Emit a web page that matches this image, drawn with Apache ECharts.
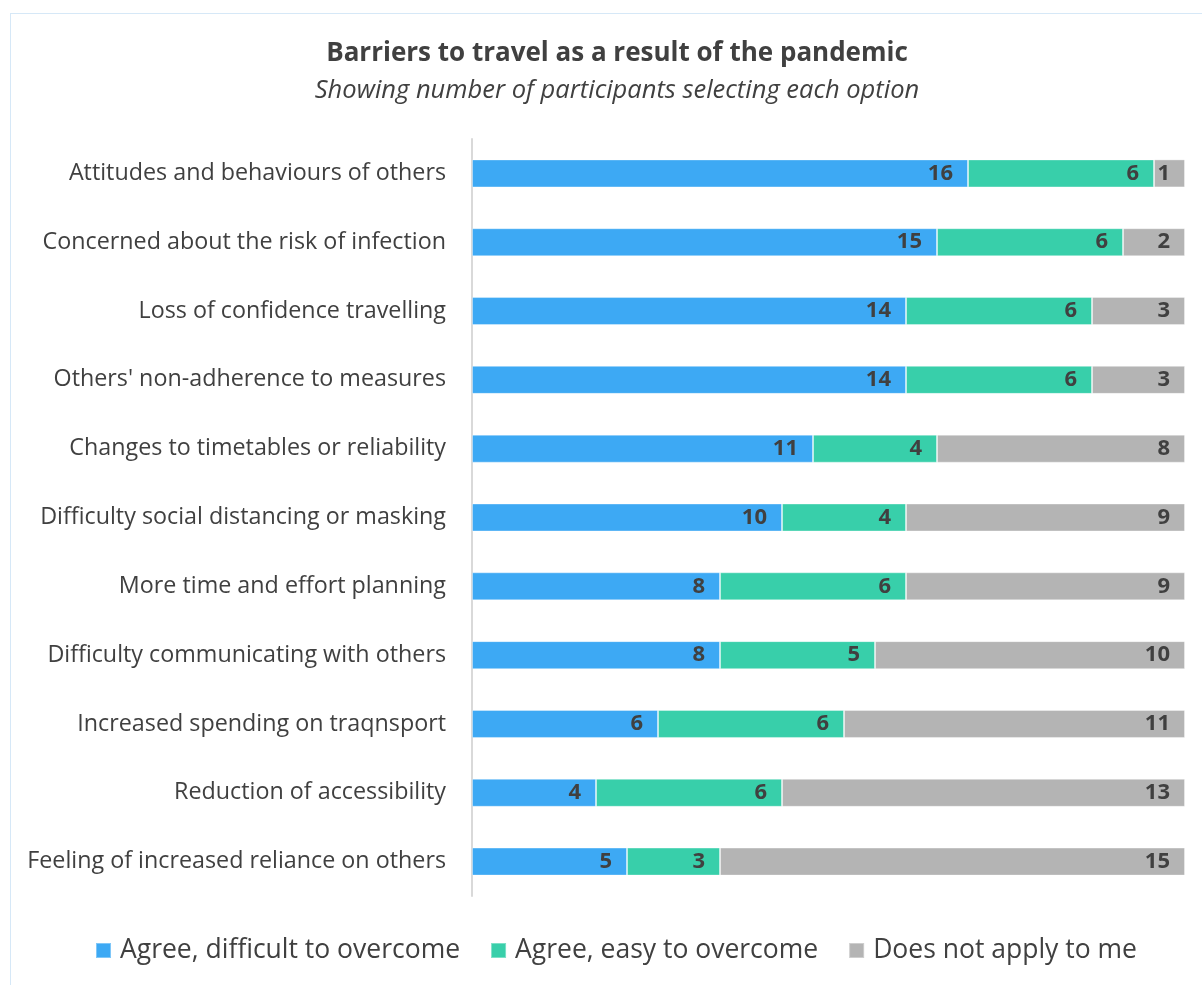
<!DOCTYPE html>
<html>
<head>
<meta charset="utf-8">
<style>
  html, body { margin: 0; padding: 0; background: #fff; }
  #frame { position: absolute; left: 10px; top: 13px; width: 1300px; height: 1100px;
           border: 1px solid #d6e8f7; box-sizing: border-box; }
  #chart { position: absolute; left: 0; top: 0; width: 1202px; height: 985px; }
</style>
<script src="https://cdn.jsdelivr.net/npm/echarts@6/dist/echarts.min.js"></script>
</head>
<body>
<div id="frame"></div>
<div id="chart"></div>
<script>
const categories = [
  'Attitudes and behaviours of others',
  'Concerned about the risk of infection',
  'Loss of confidence travelling',
  "Others' non-adherence to measures",
  'Changes to timetables or reliability',
  'Difficulty social distancing or masking',
  'More time and effort planning',
  'Difficulty communicating with others',
  'Increased spending on traqnsport',
  'Reduction of accessibility',
  'Feeling of increased reliance on others'
];
const difficultToOvercome = [16, 15, 14, 14, 11, 10, 8, 8, 6, 4, 5];
const easyToOvercome = [6, 6, 6, 6, 4, 4, 6, 5, 6, 6, 3];
const doesNotApply = [1, 2, 3, 3, 8, 9, 9, 10, 11, 13, 15];

const FONT = '"Open Sans", "Noto Sans", sans-serif';
const TEXT = '#404040';

function barSeries(name, data, color) {
  return {
    name: name,
    type: 'bar',
    stack: 'total',
    data: data,
    barWidth: 28,
    itemStyle: { color: color, borderColor: 'rgba(255,255,255,0.35)', borderWidth: 1 },
    label: {
      show: true,
      position: 'insideRight',
      distance: 15,
      color: TEXT,
      fontFamily: FONT,
      fontWeight: 'bold',
      fontSize: 22
    }
  };
}

const chart = echarts.init(document.getElementById('chart'), null, { renderer: 'canvas' });
chart.setOption({
  backgroundColor: 'transparent',
  animation: false,
  title: {
    text: 'Barriers to travel as a result of the pandemic',
    subtext: 'Showing number of participants selecting each option',
    left: 612,
    textAlign: 'center',
    top: 36,
    itemGap: 11,
    textStyle: { color: TEXT, fontFamily: FONT, fontWeight: 'bold', fontSize: 26 },
    subtextStyle: { color: TEXT, fontFamily: FONT, fontStyle: 'italic', fontSize: 25.5 }
  },
  legend: {
    bottom: 16,
    left: 90,
    itemWidth: 15,
    itemHeight: 15,
    itemGap: 30,
    icon: 'rect',
    textStyle: { color: TEXT, fontFamily: FONT, fontSize: 26.5, padding: [0, 0, 0, 4] },
    data: ['Agree, difficult to overcome', 'Agree, easy to overcome', 'Does not apply to me']
  },
  grid: { left: 472, right: 17, top: 139, bottom: 89, containLabel: false },
  xAxis: {
    type: 'value',
    min: 0,
    max: 23,
    show: false
  },
  yAxis: {
    type: 'category',
    inverse: true,
    data: categories,
    axisLine: { show: true, lineStyle: { color: '#d9d9d9', width: 2 } },
    axisTick: { show: false },
    axisLabel: { color: TEXT, fontFamily: FONT, fontSize: 23.3, margin: 26 }
  },
  series: [
    barSeries('Agree, difficult to overcome', difficultToOvercome, '#3da9f4'),
    barSeries('Agree, easy to overcome', easyToOvercome, '#38cfaa'),
    barSeries('Does not apply to me', doesNotApply, '#b4b4b4')
  ]
});
</script>
</body>
</html>
